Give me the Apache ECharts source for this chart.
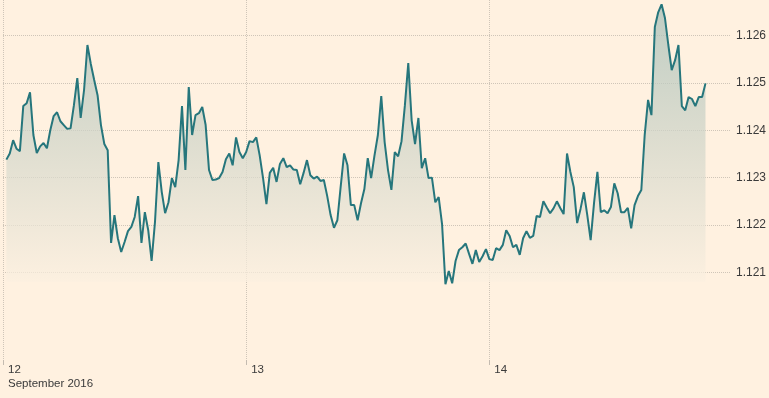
<!DOCTYPE html>
<html>
<head>
<meta charset="utf-8">
<script src="https://cdn.jsdelivr.net/npm/echarts@6.0.0/dist/echarts.min.js"></script>
<style>
  html, body { margin: 0; padding: 0; background: #fff1e0; }
  #main { width: 769px; height: 398px; }
</style>
</head>
<body>
<div id="main"></div>
<script>
// EUR/USD style intraday series, one point every 20 minutes from 12 Sep 00:20
var startTime = Date.UTC(2016, 8, 12, 0, 20);
var stepMinutes = 20;
var rates = [
    1.12338, 1.12351, 1.12379, 1.12361, 1.12356, 1.12451, 1.12457, 1.12480, 1.12390, 1.12352,
    1.12366, 1.12373, 1.12362, 1.12400, 1.12430, 1.12438, 1.12419, 1.12411, 1.12403, 1.12404,
    1.12453, 1.12510, 1.12426, 1.12485, 1.12580, 1.12540, 1.12506, 1.12474, 1.12411, 1.12371,
    1.12358, 1.12162, 1.12221, 1.12172, 1.12143, 1.12164, 1.12187, 1.12196, 1.12217, 1.12261,
    1.12162, 1.12227, 1.12189, 1.12124, 1.12206, 1.12333, 1.12270, 1.12225, 1.12248, 1.12299,
    1.12280, 1.12337, 1.12451, 1.12316, 1.12491, 1.12390, 1.12432, 1.12436, 1.12449, 1.12411,
    1.12316, 1.12295, 1.12296, 1.12299, 1.12312, 1.12339, 1.12351, 1.12326, 1.12385, 1.12354,
    1.12341, 1.12354, 1.12377, 1.12375, 1.12385, 1.12347, 1.12299, 1.12244, 1.12310, 1.12321,
    1.12291, 1.12329, 1.12341, 1.12322, 1.12326, 1.12317, 1.12316, 1.12286, 1.12310, 1.12337,
    1.12305, 1.12298, 1.12302, 1.12293, 1.12295, 1.12261, 1.12221, 1.12194, 1.12210, 1.12282,
    1.12351, 1.12326, 1.12242, 1.12242, 1.12210, 1.12246, 1.12276, 1.12341, 1.12299, 1.12347,
    1.12390, 1.12472, 1.12375, 1.12316, 1.12274, 1.12354, 1.12345, 1.12377, 1.12453, 1.12542,
    1.12421, 1.12371, 1.12426, 1.12320, 1.12341, 1.12299, 1.12300, 1.12248, 1.12259, 1.12202,
    1.12075, 1.12103, 1.12077, 1.12124, 1.12147, 1.12153, 1.12161, 1.12139, 1.12118, 1.12147,
    1.12122, 1.12134, 1.12149, 1.12128, 1.12126, 1.12151, 1.12147, 1.12158, 1.12189, 1.12177,
    1.12153, 1.12158, 1.12137, 1.12172, 1.12187, 1.12173, 1.12177, 1.12219, 1.12217, 1.12250,
    1.12237, 1.12225, 1.12235, 1.12250, 1.12236, 1.12223, 1.12351, 1.12312, 1.12280, 1.12204,
    1.12234, 1.12269, 1.12221, 1.12168, 1.12246, 1.12312, 1.12227, 1.12231, 1.12225, 1.12238,
    1.12288, 1.12267, 1.12227, 1.12227, 1.12236, 1.12193, 1.12242, 1.12261, 1.12274, 1.12390,
    1.12464, 1.12432, 1.12618, 1.12649, 1.12666, 1.12637, 1.12580, 1.12527, 1.12548, 1.12580,
    1.12451, 1.12442, 1.12470, 1.12466, 1.12451, 1.12470, 1.12470, 1.12499
];
var dayTicks = [Date.UTC(2016, 8, 12), Date.UTC(2016, 8, 13), Date.UTC(2016, 8, 14)];
var monthLabel = 'September 2016';
var priceTicks = [1.121, 1.122, 1.123, 1.124, 1.125, 1.126];

var seriesData = rates.map(function (v, i) {
    return [startTime + i * stepMinutes * 60000, v];
});

var myChart = echarts.init(document.getElementById('main'));

var gridColor = '#cfc5b8';
var textColor = '#3a3a3a';

var option = {
    animation: false,
    backgroundColor: '#fff1e0',
    grid: { left: 2, right: 39, top: 0, bottom: 38 },
    xAxis: {
        type: 'value',
        min: Date.UTC(2016, 8, 12),
        max: Date.UTC(2016, 8, 14, 23, 45),
        axisLine: { show: false },
        axisTick: {
            show: true,
            length: 5,
            customValues: dayTicks,
            lineStyle: { color: '#c4bbb0' }
        },
        axisLabel: {
            customValues: dayTicks,
            align: 'left',
            margin: 3,
            padding: [0, 0, 0, 5],
            lineHeight: 14,
            fontSize: 11.5,
            fontFamily: 'Liberation Sans, Arial, sans-serif',
            color: textColor,
            formatter: function (v) {
                var day = new Date(v).getUTCDate();
                return v === dayTicks[0] ? day + '\n' + monthLabel : String(day);
            }
        },
        splitLine: {
            show: true,
            lineStyle: { color: gridColor, type: 'dotted', width: 1 }
        }
    },
    yAxis: {
        type: 'value',
        position: 'right',
        min: 1.11915,
        max: 1.12675,
        axisLine: { show: false },
        axisTick: { show: false, customValues: priceTicks },
        axisLabel: {
            customValues: priceTicks,
            margin: 6,
            fontSize: 12,
            fontFamily: 'Liberation Sans, Arial, sans-serif',
            color: textColor,
            formatter: function (v) { return v.toFixed(3); }
        },
        splitLine: {
            show: true,
            lineStyle: { color: gridColor, type: 'dotted', width: 1 }
        }
    },
    series: [{
        type: 'line',
        data: seriesData,
        showSymbol: false,
        symbol: 'none',
        lineStyle: { color: '#26767c', width: 2 },
        areaStyle: {
            origin: 1.1208,
            color: new echarts.graphic.LinearGradient(0, 0, 0, 1, [
                { offset: 0, color: '#a3bdb7' },
                { offset: 0.5, color: '#d0d5c9' },
                { offset: 1, color: '#fcf0e0' }
            ])
        }
    }]
};

myChart.setOption(option);
</script>
</body>
</html>
